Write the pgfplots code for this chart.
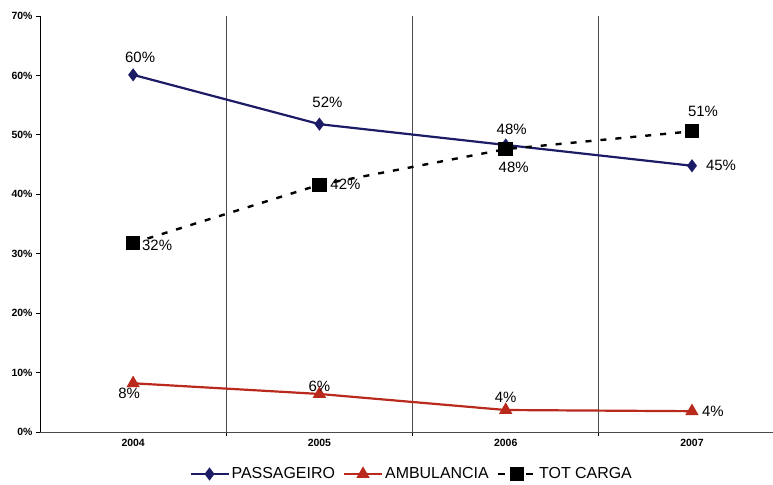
\documentclass[border=0pt]{standalone}
\usepackage{fontspec}
\setmainfont{Liberation Sans}
\usepackage{pgfplots}
\usepackage{pgfplotstable}
\pgfplotsset{compat=1.18}

\definecolor{navy}{HTML}{1C1C66}
\definecolor{ambred}{HTML}{BA2A1C}
\definecolor{gridgray}{HTML}{4A4A4A}

% x = year index (0 = 2004), y = share in %, dx/dy = label offset in bp
\pgfplotstableread{
x y     dx  dy
0 60.1  7   17
1 51.8  8   22
2 48.3  6   16
3 44.8  29  0
}\passageiro
\pgfplotstableread{
x y    dx  dy
0 8.2  -4  -10
1 6.4  0   8
2 3.7  0   13
3 3.5  21  0
}\ambulancia
\pgfplotstableread{
x y     dx  dy
0 31.8  24  -2
1 41.6  26  0
2 47.6  8   -18
3 50.6  11  20
}\totcarga

\begin{document}
\begin{tikzpicture}
\begin{axis}[
  at={(0,0)}, anchor=south west,
  scale only axis, width=733bp, height=416bp,
  xmin=-0.5, xmax=3.435, ymin=0, ymax=70,
  axis x line=bottom, axis y line=left,
  x axis line style={-, draw=gridgray, line width=0.9bp},
  y axis line style={-, draw=black, line width=0.9bp},
  /pgf/number format/assume math mode=true,
  ytick={0,10,...,70},
  yticklabel={\pgfmathprintnumber{\tick}\%},
  yticklabel style={font=\bfseries\fontsize{10.5}{11}\selectfont},
  xtick={0.5,1.5,2.5}, xticklabels={},
  xmajorgrids,
  major grid style={draw=gridgray, line width=0.8bp},
  tick align=outside, major tick length=4bp,
  tick style={draw=black, line width=0.8bp},
  extra x ticks={0,1,2,3},
  extra x tick labels={2004,2005,2006,2007},
  extra x tick style={major tick length=0pt, grid=none,
    xticklabel style={font=\bfseries\fontsize{10.5}{11}\selectfont, yshift=-4bp}},
  point meta=y,
  nodes near coords={\pgfmathprintnumber[fixed,precision=0]{\pgfplotspointmeta}\%},
  visualization depends on={\thisrow{dx}\as\ldx},
  visualization depends on={\thisrow{dy}\as\ldy},
  every node near coord/.append style={anchor=center, text=black,
    font=\fontsize{15}{15}\selectfont, xshift=\ldx bp, yshift=\ldy bp},
  legend style={at={(axis description cs:0.507,-0.101)}, anchor=center,
    draw=none, fill=none, font=\fontsize{16}{16}\selectfont,
    /tikz/every even column/.append style={column sep=6bp}},
  legend columns=-1,
  legend image code/.code={\draw[mark repeat=2, mark phase=2, #1]
    plot coordinates {(0bp,0bp) (19bp,0bp) (38bp,0bp)};},
]
\addplot[navy, line width=2.2bp, mark=diamond*, mark size=4.8bp,
  mark options={solid, fill=navy}] table[x=x, y=y] {\passageiro};
\addlegendentry{PASSAGEIRO}
\addplot[ambred, line width=2.2bp, mark=triangle*, mark size=5.5bp,
  mark options={solid, fill=ambred}] table[x=x, y=y] {\ambulancia};
\addlegendentry{AMBULANCIA}
\addplot[black, line width=2.4bp, dash pattern=on 6bp off 9bp,
  mark=square*, mark size=6bp, mark options={solid, fill=black},
  legend image post style={dash pattern=on 7bp off 7bp}]
  table[x=x, y=y] {\totcarga};
\addlegendentry{TOT CARGA}
\end{axis}
\pgfresetboundingbox
\path[use as bounding box] (-40bp,-53bp) rectangle (733bp,432bp);
\end{tikzpicture}
\end{document}
